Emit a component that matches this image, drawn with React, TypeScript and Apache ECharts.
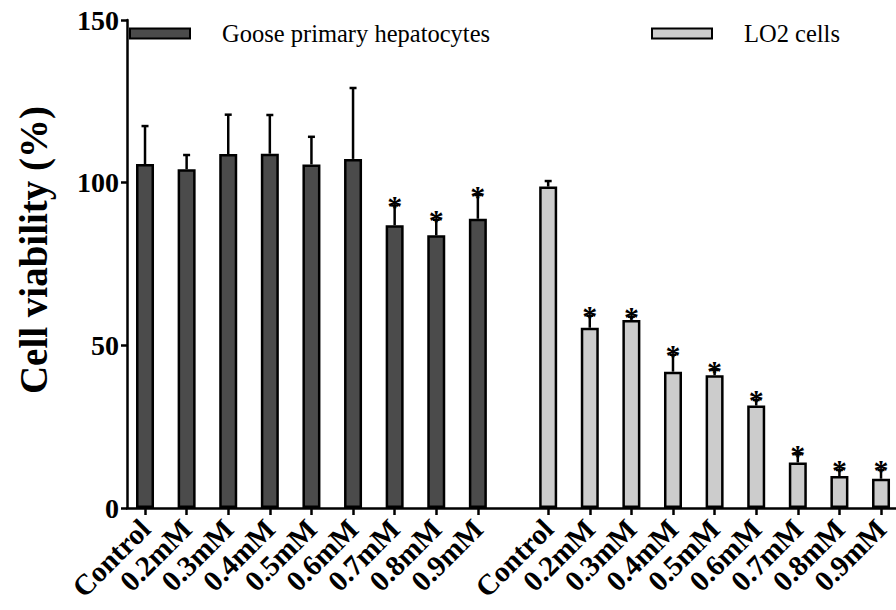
import React, { useEffect, useRef } from "react";
import * as echarts from "echarts";

const categories = ["Control", "0.2mM", "0.3mM", "0.4mM", "0.5mM", "0.6mM", "0.7mM", "0.8mM", "0.9mM"];
const gooseMeans = [105.7, 104.1, 108.8, 108.9, 105.6, 107.3, 86.9, 83.8, 88.9];
const gooseErr = [11.7, 4.4, 12.1, 11.9, 8.5, 21.8, 6.1, 4.8, 7.3];
const gooseSig = [false, false, false, false, false, false, true, true, true];
const lo2Means = [98.8, 55.4, 57.8, 41.9, 40.8, 31.5, 14.0, 9.8, 9.0];
const lo2Err = [1.7, 3.7, 1.0, 5.2, 1.6, 1.7, 2.5, 1.9, 2.7];
const lo2Sig = [false, true, true, true, true, true, true, true, true];
const yTicks = [0, 50, 100, 150];

const SERIES_GOOSE = "Goose primary hepatocytes";
const SERIES_LO2 = "LO2 cells";
const Y_TITLE = "Cell viability (%)";
const LO2_START = 9.69;

const FONT = "Liberation Serif";

export default function App() {
  const ref = useRef<HTMLDivElement>(null);
  useEffect(() => {
    if (!ref.current) return;
    const chart = echarts.init(ref.current, null, { renderer: "svg" });
    const goosePos = categories.map((_, i) => i);
    const lo2Pos = categories.map((_, i) => LO2_START + i);
    const allPos = [...goosePos, ...lo2Pos];
    const labelFor = (v: number) => {
      const idx = allPos.findIndex((p) => Math.abs(p - v) < 1e-6);
      return idx < 0 ? "" : categories[idx % categories.length];
    };
    const errData = [
      ...gooseMeans.map((m, i) => [goosePos[i], m, m + gooseErr[i], gooseSig[i] ? 1 : 0]),
      ...lo2Means.map((m, i) => [lo2Pos[i], m, m + lo2Err[i], lo2Sig[i] ? 1 : 0]),
    ];
    const legendText = { fontFamily: FONT, fontSize: 24.5, fontWeight: "normal", color: "#000" };
    chart.setOption({
      animation: false,
      backgroundColor: "#ffffff",
      textStyle: { fontFamily: FONT },
      grid: { left: 127, right: 0, top: 20, bottom: 102, containLabel: false },
      legend: [
        {
          data: [SERIES_GOOSE],
          left: 124,
          top: 16,
          itemWidth: 60,
          itemHeight: 10,
          itemGap: 0,
          icon: "rect",
          itemStyle: { borderColor: "#000", borderWidth: 2 },
          textStyle: { ...legendText, padding: [0, 0, 0, 27] },
          selectedMode: false,
        },
        {
          data: [SERIES_LO2],
          left: 646,
          top: 16,
          itemWidth: 60,
          itemHeight: 10,
          icon: "rect",
          itemStyle: { borderColor: "#000", borderWidth: 2 },
          textStyle: { ...legendText, padding: [0, 0, 0, 27] },
          selectedMode: false,
        },
      ],
      graphic: [
        {
          type: "text",
          x: 33,
          y: 250,
          rotation: Math.PI / 2,
          style: {
            text: Y_TITLE,
            fontFamily: FONT,
            fontWeight: "bold",
            fontSize: 39,
            fill: "#000",
            align: "center",
            verticalAlign: "middle",
          },
        },
      ],
      xAxis: {
        type: "value",
        min: -0.433,
        max: 18.05,
        splitLine: { show: false },
        axisLine: { show: true, onZero: false, lineStyle: { color: "#000", width: 2.5 } },
        axisTick: { show: true, customValues: allPos, length: 7, lineStyle: { color: "#000", width: 2.5 } },
        axisLabel: {
          customValues: allPos,
          formatter: (v: number) => labelFor(v),
          rotate: 45,
          margin: 16,
          fontFamily: FONT,
          fontWeight: "bold",
          fontSize: 29,
          color: "#000",
        },
      },
      yAxis: {
        type: "value",
        min: 0,
        max: 150,
        interval: 50,
        splitLine: { show: false },
        axisLine: { show: true, onZero: false, lineStyle: { color: "#000", width: 2.5 } },
        axisTick: { show: true, length: 6, lineStyle: { color: "#000", width: 2.5 } },
        axisLabel: {
          margin: 8,
          fontFamily: FONT,
          fontWeight: "bold",
          fontSize: 28,
          color: "#000",
          customValues: yTicks,
        },
      },
      series: [
        {
          name: SERIES_GOOSE,
          type: "bar",
          barWidth: 18,
          barGap: "-100%",
          data: gooseMeans.map((m, i) => [goosePos[i], m]),
          itemStyle: { color: "#4b4b4b", borderColor: "#000", borderWidth: 2.5 },
          z: 2,
        },
        {
          name: SERIES_LO2,
          type: "bar",
          barWidth: 18,
          barGap: "-100%",
          data: lo2Means.map((m, i) => [lo2Pos[i], m]),
          itemStyle: { color: "#cccccc", borderColor: "#000", borderWidth: 2.5 },
          z: 2,
        },
        {
          name: "error",
          type: "custom",
          z: 3,
          data: errData,
          encode: { x: 0, y: 2 },
          renderItem: (params: any, api: any) => {
            const x = api.value(0);
            const top = api.coord([x, api.value(1)]);
            const hi = api.coord([x, api.value(2)]);
            const sig = api.value(3) === 1;
            const children: any[] = [
              {
                type: "line",
                shape: { x1: top[0], y1: top[1], x2: hi[0], y2: hi[1] },
                style: { stroke: "#000", lineWidth: 2.5 },
              },
              {
                type: "line",
                shape: { x1: hi[0] - 3.5, y1: hi[1], x2: hi[0] + 3.5, y2: hi[1] },
                style: { stroke: "#000", lineWidth: 2.5 },
              },
            ];
            if (sig) {
              children.push({
                type: "text",
                x: hi[0],
                y: hi[1] + 15,
                style: {
                  text: "*",
                  fontFamily: FONT,
                  fontWeight: "bold",
                  fontSize: 30,
                  fill: "#000",
                  align: "center",
                  verticalAlign: "bottom",
                },
              });
            }
            return { type: "group", children };
          },
        },
      ],
    });
    return () => chart.dispose();
  }, []);
  return (
    <div
      ref={ref}
      style={{ position: "fixed", left: 0, top: 0, width: 896, height: 610 }}
    />
  );
}
